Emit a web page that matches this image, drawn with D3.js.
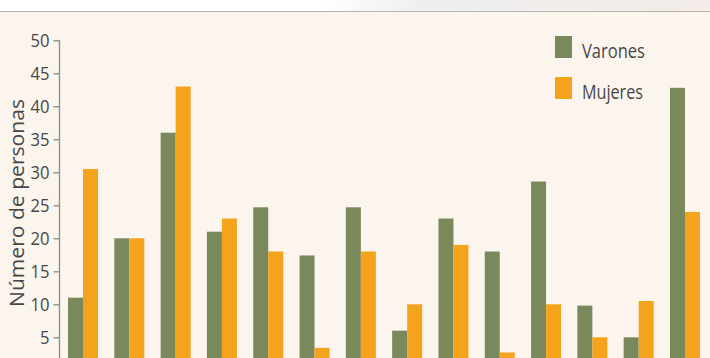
<!DOCTYPE html>
<html>
<head>
<meta charset="utf-8">
<script src="https://cdn.jsdelivr.net/npm/d3@7"></script>
<style>
  html, body { margin: 0; padding: 0; background: #fbf5ee; overflow: hidden; }
  svg { display: block; }
</style>
</head>
<body>
<script>
const categories = ["1","2","3","4","5","6","7","8","9","10","11","12","13","14"];
const seriesNames = ["Varones", "Mujeres"];
const varones = [11, 20, 36, 21, 24.7, 17.4, 24.7, 6, 23, 18, 28.6, 9.8, 5, 42.8];
const mujeres = [30.5, 20, 43, 23, 18, 3.4, 18, 10, 19, 2.7, 10, 5, 10.5, 24];
const yTicks = [5, 10, 15, 20, 25, 30, 35, 40, 45, 50];
const yTitle = "Número de personas";
const colors = ["#7a895c", "#f5a31c"];

const W = 710, H = 358;
const svg = d3.select("body").append("svg").attr("width", W).attr("height", H);

// background and scanned page edge at top
const defs = svg.append("defs");
const grad = defs.append("linearGradient").attr("id", "topg").attr("x1", 0).attr("x2", 1);
grad.append("stop").attr("offset", "0").attr("stop-color", "#ffffff");
grad.append("stop").attr("offset", "0.45").attr("stop-color", "#ffffff");
grad.append("stop").attr("offset", "0.6").attr("stop-color", "#eeeeee");
grad.append("stop").attr("offset", "1").attr("stop-color", "#f3ece8");
svg.append("rect").attr("width", W).attr("height", H).attr("fill", "#fbf5ee");
svg.append("rect").attr("width", W).attr("height", 11).attr("fill", "url(#topg)");
svg.append("line").attr("x1", 0).attr("x2", W).attr("y1", 11.5).attr("y2", 11.5)
  .attr("stroke", "#b9b4ae").attr("stroke-width", 1);

const axisX = 59.5;
const y = d3.scaleLinear().domain([0, 50]).range([370.3, 40.3]);
const x0 = d3.scaleBand().domain(categories).range([axisX, 708.5])
  .paddingInner(0.352).paddingOuter(0.184);
const x1 = d3.scaleBand().domain(seriesNames).range([0, x0.bandwidth()]);

const data = categories.map((c, i) => ({ c, vals: [varones[i], mujeres[i]] }));

const g = svg.append("g").selectAll("g").data(data).join("g")
  .attr("transform", d => `translate(${x0(d.c)},0)`);
g.selectAll("rect").data(d => d.vals.map((v, k) => ({ v, k }))).join("rect")
  .attr("x", d => x1(seriesNames[d.k]))
  .attr("width", x1.bandwidth())
  .attr("y", d => y(d.v))
  .attr("height", d => y(0) - y(d.v))
  .attr("fill", d => colors[d.k]);

// y axis
const yAxis = svg.append("g").attr("transform", `translate(${axisX},0)`)
  .call(d3.axisLeft(y).tickValues(yTicks).tickSize(6).tickPadding(4).tickSizeOuter(0));
yAxis.select(".domain").attr("stroke", "#8b8a80").attr("stroke-width", 1.3)
  .attr("d", `M0,${y(50)}V${H + 20}`);
yAxis.selectAll(".tick line").attr("stroke", "#8b8a80").attr("stroke-width", 1.3);
yAxis.selectAll(".tick text").attr("fill", "#474747")
  .style("font-family", "'Open Sans', sans-serif").style("font-size", "19px")
  .attr("textLength", d => String(d).length * 9.5).attr("lengthAdjust", "spacingAndGlyphs")
  .attr("dy", "0.34em");

// y title
svg.append("text")
  .attr("transform", `translate(24,203) rotate(-90)`)
  .attr("text-anchor", "middle")
  .attr("fill", "#474747")
  .style("font-family", "'Open Sans', sans-serif").style("font-size", "20.5px")
  .attr("textLength", 208).attr("lengthAdjust", "spacingAndGlyphs")
  .text(yTitle);

// legend
const leg = svg.append("g").selectAll("g").data(seriesNames).join("g")
  .attr("transform", (d, i) => `translate(555,${36 + i * 41})`);
leg.append("rect").attr("width", 17).attr("height", 22).attr("fill", (d, i) => colors[i]);
leg.append("text").attr("x", 27).attr("y", 22)
  .attr("fill", "#474747")
  .style("font-family", "'Open Sans', sans-serif").style("font-size", "20px")
  .attr("textLength", (d, i) => i === 0 ? 63 : 61).attr("lengthAdjust", "spacingAndGlyphs")
  .text(d => d);
</script>
</body>
</html>
